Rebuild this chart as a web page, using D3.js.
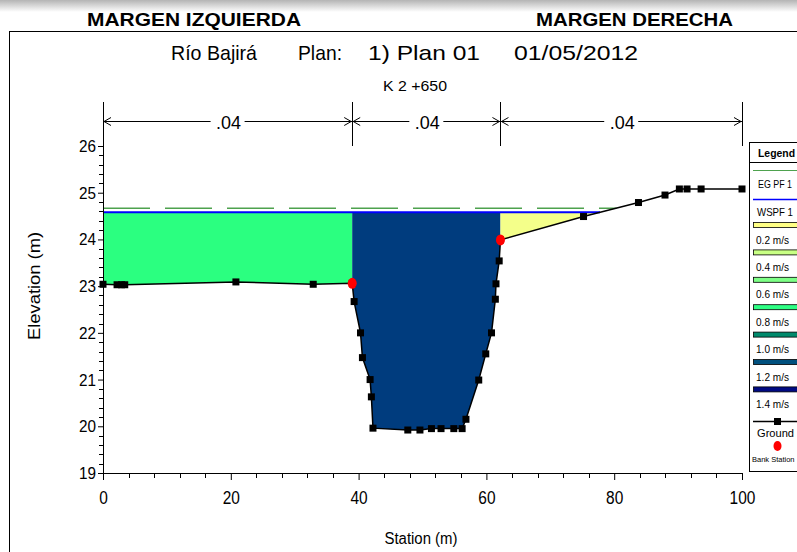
<!DOCTYPE html>
<html><head><meta charset="utf-8">
<script src="https://cdn.jsdelivr.net/npm/d3@7"></script>
<style>
html,body{margin:0;padding:0;background:#fff;overflow:hidden}
svg{display:block;font-family:"Liberation Sans Narrow","Arial Narrow","Liberation Sans",Arial,sans-serif}
</style></head><body>
<svg id="chart" width="797" height="552"></svg>
<script>
// Cross-section ground survey (station m, elevation m)
const stations = [0, 2.2, 2.9, 3.4, 20.8, 32.9, 39.0, 39.3, 40.3, 40.6, 41.8, 42.0, 42.25,
  47.7, 49.6, 51.4, 52.9, 54.9, 56.2, 56.8, 58.8, 59.9, 60.8, 61.4, 61.5, 62.0, 62.2,
  75.2, 83.8, 87.95, 90.2, 91.4, 93.6, 100];
const elevations = [23.04, 23.03, 23.03, 23.03, 23.09, 23.04, 23.06, 22.67, 22.0, 21.47, 21.0, 20.63, 19.96,
  19.92, 19.92, 19.95, 19.95, 19.95, 19.95, 20.15, 20.99, 21.55, 22.0, 22.72, 23.05, 23.54, 23.99,
  24.49, 24.79, 24.95, 25.08, 25.08, 25.08, 25.08];
const bankStations = [39.0, 62.2];
const wsElev = 24.58;   // WS PF 1
const egElev = 24.67;   // EG PF 1
const nBreaks = [0, 39.0, 62.2, 100];
const nLabels = [".04", ".04", ".04"];
const xTickValues = [0, 20, 40, 60, 80, 100];
const yTickValues = [19, 20, 21, 22, 23, 24, 25, 26];
const velocityLabels = ["0.2 m/s", "0.4 m/s", "0.6 m/s", "0.8 m/s", "1.0 m/s", "1.2 m/s", "1.4 m/s"];
const velocityColors = ["#ffff84", "#c8ff84", "#7dff86", "#2eff84", "#008a6c", "#00507e", "#000a82"];
const zoneColors = ["#2bff80", "#003c7e", "#f4ff8a"];

const svg = d3.select("#chart");
const x = d3.scaleLinear().domain([0, 100]).range([103, 742]);
const y = d3.scaleLinear().domain([19, 26]).range([473, 146]);
const yTop = 102;

// condensed text helper: fixed advance width
function label(g, t, x0, y0, size, w, opts = {}) {
  const el = g.append("text").attr("x", x0).attr("y", y0).attr("font-size", size).text(t);
  if (w) el.attr("textLength", w).attr("lengthAdjust", "spacingAndGlyphs");
  if (opts.bold) el.attr("font-weight", "bold");
  if (opts.anchor) el.attr("text-anchor", opts.anchor);
  return el;
}

// top shading band
const defs = svg.append("defs");
const grad = defs.append("linearGradient").attr("id", "band").attr("x1", 0).attr("y1", 0).attr("x2", 0).attr("y2", 1);
grad.append("stop").attr("offset", 0).attr("stop-color", "#b4b4b4");
grad.append("stop").attr("offset", 1).attr("stop-color", "#ffffff");
svg.append("rect").attr("x", 0).attr("y", 0).attr("width", 797).attr("height", 12).attr("fill", "url(#band)");

// bank headings
label(svg, "MARGEN IZQUIERDA", 87, 26, 18, 214, { bold: true });
label(svg, "MARGEN DERECHA", 536, 26, 18, 197, { bold: true });

// outer frame
svg.append("rect").attr("x", 9.5).attr("y", 31.5).attr("width", 800).attr("height", 540)
  .attr("fill", "none").attr("stroke", "#000").attr("stroke-width", 1);

// title
const titleParts = [["Río Bajirá", 171, 86], ["Plan:", 298, 44], ["1) Plan 01", 368, 112], ["01/05/2012", 514, 124]];
titleParts.forEach(([t, x0, w]) => label(svg, t, x0, 60, 21, w));
label(svg, "K 2 +650", 383, 91, 15, 64);

// Manning's n bracket line
const nY = 121.5;
const nG = svg.append("g").attr("stroke", "#000").attr("stroke-width", 1).attr("fill", "none");
nBreaks.forEach(s => {
  nG.append("line").attr("x1", Math.round(x(s)) + 0.5).attr("x2", Math.round(x(s)) + 0.5)
    .attr("y1", yTop).attr("y2", 146);
});
nLabels.forEach((lab, i) => {
  const x1 = x(nBreaks[i]), x2 = x(nBreaks[i + 1]), m = (x1 + x2) / 2;
  nG.append("line").attr("x1", x1).attr("x2", m - 17).attr("y1", nY).attr("y2", nY);
  nG.append("line").attr("x1", m + 17).attr("x2", x2).attr("y1", nY).attr("y2", nY);
  nG.append("path").attr("d", `M${x1 + 8},${nY - 4}L${x1 + 1},${nY}L${x1 + 8},${nY + 4}`);
  nG.append("path").attr("d", `M${x2 - 8},${nY - 4}L${x2 - 1},${nY}L${x2 - 8},${nY + 4}`);
  label(svg, lab, m + 1, nY + 7, 19, 25, { anchor: "middle" });
});

// ground interpolation helpers
function groundAt(s) {
  for (let i = 0; i < stations.length - 1; i++) {
    if (s >= stations[i] && s <= stations[i + 1]) {
      const t = (s - stations[i]) / (stations[i + 1] - stations[i]);
      return elevations[i] + t * (elevations[i + 1] - elevations[i]);
    }
  }
  return elevations[elevations.length - 1];
}
function crossing(level) {
  for (let i = 0; i < stations.length - 1; i++) {
    const a = elevations[i] - level, b = elevations[i + 1] - level;
    if (a < 0 && b >= 0) return stations[i] + (stations[i + 1] - stations[i]) * (-a) / (b - a);
  }
  return 100;
}
const wsEnd = crossing(wsElev);
const egEnd = crossing(egElev);

// flow areas, split at bank stations
const zones = [[0, bankStations[0]], [bankStations[0], bankStations[1]], [bankStations[1], 100]];
const area = d3.area().x(d => x(d[0])).y0(d => y(Math.min(d[1], wsElev))).y1(y(wsElev));
zones.forEach(([a, b], i) => {
  const end = Math.min(b, wsEnd);
  if (end <= a) return;
  const pts = [[a, groundAt(a)]];
  stations.forEach((s, k) => { if (s > a && s < end) pts.push([s, elevations[k]]); });
  pts.push([end, groundAt(end)]);
  svg.append("path").datum(pts).attr("d", area).attr("fill", zoneColors[i]);
});

// energy grade and water surface
svg.append("line").attr("x1", x(0)).attr("x2", x(egEnd)).attr("y1", y(egElev)).attr("y2", y(egElev))
  .attr("stroke", "#4ea24e").attr("stroke-width", 1.5).attr("stroke-dasharray", "47 15");
svg.append("line").attr("x1", x(0)).attr("x2", x(wsEnd)).attr("y1", y(wsElev)).attr("y2", y(wsElev))
  .attr("stroke", "#0000ff").attr("stroke-width", 2);

// axes
const yAxis = d3.axisLeft(y).tickValues(yTickValues).tickSize(5).tickPadding(2).tickFormat(d3.format("d"));
const yG = svg.append("g").attr("transform", "translate(103,0)").call(yAxis);
yG.select(".domain").remove();
yG.selectAll("text").attr("font-size", 17).attr("font-family", null)
  .attr("textLength", 17).attr("lengthAdjust", "spacingAndGlyphs");
const yMinor = d3.range(19, 26.01, 0.2).filter(v => Math.abs(v - Math.round(v)) > 0.01);
svg.append("g").selectAll("line").data(yMinor).join("line")
  .attr("x1", 99).attr("x2", 103).attr("y1", d => Math.round(y(d)) + 0.5).attr("y2", d => Math.round(y(d)) + 0.5)
  .attr("stroke", "#000");
svg.append("line").attr("x1", 103.5).attr("x2", 103.5).attr("y1", yTop).attr("y2", 473.5).attr("stroke", "#000");

const xAxis = d3.axisBottom(x).tickValues(xTickValues).tickSize(7).tickPadding(11);
const xG = svg.append("g").attr("transform", "translate(0,473)").call(xAxis);
xG.select(".domain").attr("d", `M${x(0)},0.5H${x(100)}`);
xG.selectAll("text").attr("font-size", 18).attr("font-family", null)
  .attr("textLength", d => String(d).length * 8.6).attr("lengthAdjust", "spacingAndGlyphs");
const xMinor = d3.range(0, 100.1, 4).filter(v => v % 20 !== 0);
svg.append("g").selectAll("line").data(xMinor).join("line")
  .attr("x1", d => Math.round(x(d)) + 0.5).attr("x2", d => Math.round(x(d)) + 0.5)
  .attr("y1", 473).attr("y2", 478).attr("stroke", "#000");

label(svg, "Station (m)", 421, 544, 16, 73, { anchor: "middle" });
svg.append("text").attr("transform", "translate(40,286) rotate(-90)").attr("text-anchor", "middle")
  .attr("font-size", 17).attr("textLength", 108).attr("lengthAdjust", "spacingAndGlyphs").text("Elevation (m)");

// ground line with survey points
const line = d3.line().x((d, i) => x(stations[i])).y(d => y(d));
svg.append("path").datum(elevations).attr("d", line).attr("fill", "none").attr("stroke", "#000").attr("stroke-width", 1.5);
svg.append("g").selectAll("rect").data(stations).join("rect")
  .attr("x", d => x(d) - 3.5).attr("y", (d, i) => y(elevations[i]) - 3.5)
  .attr("width", 7).attr("height", 7).attr("fill", "#000");
svg.append("g").selectAll("ellipse").data(bankStations).join("ellipse")
  .attr("cx", d => x(d)).attr("cy", d => y(groundAt(d))).attr("rx", 4.5).attr("ry", 5.5).attr("fill", "#ff0000");

// legend
const lg = svg.append("g");
lg.append("rect").attr("x", 749.5).attr("y", 142.5).attr("width", 100).attr("height", 329)
  .attr("fill", "#fff").attr("stroke", "#000");
lg.append("line").attr("x1", 749).attr("x2", 797).attr("y1", 162.5).attr("y2", 162.5).attr("stroke", "#000");
label(lg, "Legend", 758, 157, 10.5, 37, { bold: true });
lg.append("line").attr("x1", 753).attr("x2", 797).attr("y1", 170.5).attr("y2", 170.5).attr("stroke", "#4ea24e").attr("stroke-width", 1.2);
label(lg, "EG PF 1", 758, 188, 10, 34);
lg.append("line").attr("x1", 753).attr("x2", 797).attr("y1", 199.5).attr("y2", 199.5).attr("stroke", "#0000ff").attr("stroke-width", 1.5);
label(lg, "WSPF 1", 757, 216, 10.5, 36);
velocityLabels.forEach((lab, i) => {
  const yy = 222.5 + i * 27.4;
  lg.append("rect").attr("x", 753.5).attr("y", yy).attr("width", 60).attr("height", 5)
    .attr("fill", velocityColors[i]).attr("stroke", "#000").attr("stroke-width", 0.8);
  label(lg, lab, 756, yy + 21, 10.5, 33);
});
lg.append("line").attr("x1", 753).attr("x2", 797).attr("y1", 421.5).attr("y2", 421.5).attr("stroke", "#000").attr("stroke-width", 1.5);
lg.append("rect").attr("x", 774).attr("y", 418).attr("width", 7).attr("height", 7).attr("fill", "#000");
label(lg, "Ground", 757, 437, 10.5, 37);
lg.append("ellipse").attr("cx", 777.5).attr("cy", 446).attr("rx", 4).attr("ry", 5).attr("fill", "#ff0000");
label(lg, "Bank Station", 752, 462, 7.5, null);
</script>
</body></html>
